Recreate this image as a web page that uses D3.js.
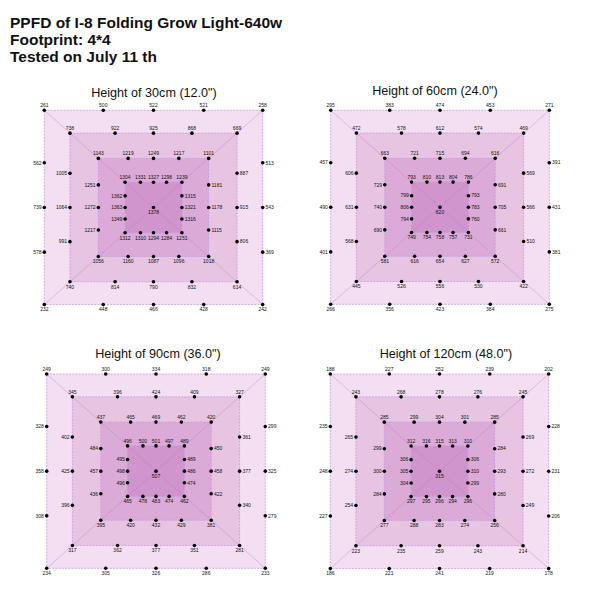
<!DOCTYPE html>
<html>
<head>
<meta charset="utf-8">
<script src="https://cdn.jsdelivr.net/npm/d3@7"></script>
<style>
  html, body { margin: 0; padding: 0; background: #fff; }
  svg { display: block; font-family: "Liberation Sans", Arial, sans-serif; }
</style>
</head>
<body>
<script>
// ---- Data ----
const titleLines = ["PPFD of I-8 Folding Grow Light-640w", "Footprint: 4*4", "Tested on July 11 th"];
const panelTitles = ["Height of 30cm (12.0\")", "Height of 60cm (24.0\")", "Height of 90cm (36.0\")", "Height of 120cm (48.0\")"];

// Each ring: top row L->R (5), right column T->B (3), bottom row L->R (5), left column T->B (3)
const ppfd30 = [
  [261, 500, 522, 521, 258,  513, 543, 369,  232, 448, 466, 428, 242,  562, 739, 578],
  [738, 922, 925, 868, 669,  887, 915, 806,  740, 814, 790, 832, 614,  1005, 1064, 991],
  [1143, 1219, 1249, 1217, 1101,  1181, 1178, 1115,  1056, 1160, 1087, 1096, 1018,  1251, 1272, 1217],
  [1304, 1331, 1327, 1298, 1239,  1315, 1321, 1316,  1312, 1310, 1294, 1284, 1251,  1362, 1363, 1349]
];
const center30 = 1378;

const ppfd60 = [
  [295, 383, 474, 453, 271,  391, 431, 381,  266, 356, 423, 384, 275,  457, 490, 401],
  [472, 578, 612, 574, 469,  569, 566, 510,  445, 526, 556, 530, 422,  606, 631, 568],
  [663, 721, 715, 694, 616,  691, 705, 661,  581, 616, 654, 627, 572,  729, 740, 690],
  [793, 810, 813, 804, 786,  793, 783, 760,  749, 754, 758, 757, 731,  799, 806, 794]
];
const center60 = 820;

const ppfd90 = [
  [249, 300, 334, 318, 249,  299, 325, 279,  234, 305, 326, 286, 233,  328, 358, 308],
  [345, 396, 424, 409, 327,  361, 377, 340,  317, 362, 377, 351, 281,  402, 425, 396],
  [437, 465, 469, 462, 420,  450, 458, 422,  395, 420, 432, 429, 381,  484, 457, 436],
  [496, 500, 501, 497, 489,  489, 486, 474,  465, 478, 483, 474, 462,  495, 498, 496]
];
const center90 = 507;

const ppfd120 = [
  [188, 227, 252, 239, 202,  228, 231, 206,  186, 221, 241, 219, 178,  235, 248, 227],
  [243, 268, 278, 276, 245,  269, 272, 249,  223, 235, 259, 243, 214,  265, 274, 254],
  [285, 299, 304, 301, 285,  284, 293, 280,  277, 288, 283, 274, 256,  299, 300, 284],
  [312, 316, 315, 313, 310,  306, 310, 299,  297, 295, 296, 294, 296,  306, 305, 304]
];
const center120 = 315;

const panelData = [ppfd30, ppfd60, ppfd90, ppfd120];
const panelCenters = [center30, center60, center90, center120];

// ---- Layout ----
const panelBoxes = [
  { x0: 44.3, x1: 262.7, y0: 110.3, y1: 304.6, tx: 154, ty: 96.5 },
  { x0: 330.7, x1: 549.3, y0: 110.3, y1: 304.3, tx: 435, ty: 94.5 },
  { x0: 46.7, x1: 265.3, y0: 374, y1: 568.3, tx: 158, ty: 358 },
  { x0: 330.3, x1: 548.7, y0: 374, y1: 568.6, tx: 446, ty: 358 }
];
const ringSize = [1, 0.765, 0.505, 0.26];
const midFrac = [-0.46, 0, 0.46];
const ringFill = ["#f3dff1", "#e6c4e2", "#dbaad7", "#d095cc"];

const svg = d3.select("body").append("svg").attr("width", 600).attr("height", 600);

svg.append("g").selectAll("text").data(titleLines).join("text")
  .attr("x", 10).attr("y", (d, i) => 28 + i * 17)
  .attr("font-size", 15.5).attr("font-weight", "bold").attr("fill", "#111")
  .text(d => d);

panelData.forEach((rings, pi) => {
  const box = panelBoxes[pi];
  const x = d3.scaleLinear().domain([-1, 1]).range([box.x0, box.x1]);
  const y = d3.scaleLinear().domain([-1, 1]).range([box.y0, box.y1]);
  const g = svg.append("g");

  g.append("text").attr("x", box.tx).attr("y", box.ty)
    .attr("text-anchor", "middle").attr("font-size", 12.6).attr("fill", "#111")
    .text(panelTitles[pi]);

  g.selectAll("rect.ring").data(ringSize).join("rect")
    .attr("class", "ring")
    .attr("x", s => x(-s)).attr("y", s => y(-s))
    .attr("width", s => x(s) - x(-s)).attr("height", s => y(s) - y(-s))
    .attr("fill", (s, i) => ringFill[i])
    .attr("stroke", "#c69be3").attr("stroke-width", 0.8)
    .attr("stroke-dasharray", "2,1.2");

  g.selectAll("line.diag").data([[-1, -1, 1, 1], [1, -1, -1, 1]]).join("line")
    .attr("class", "diag")
    .attr("x1", d => x(d[0])).attr("y1", d => y(d[1]))
    .attr("x2", d => x(d[2])).attr("y2", d => y(d[3]))
    .attr("stroke", "#b77ec9").attr("stroke-opacity", 0.45).attr("stroke-width", 0.9);

  const pts = [];
  rings.forEach((vals, ri) => {
    const s = ringSize[ri];
    const rowX = [-1, ...midFrac, 1];
    rowX.forEach((fx, j) => pts.push({ v: vals[j], px: fx * s, py: -s, pos: "top" }));
    midFrac.forEach((fy, j) => pts.push({ v: vals[5 + j], px: s, py: fy * s, pos: "right" }));
    rowX.forEach((fx, j) => pts.push({ v: vals[8 + j], px: fx * s, py: s, pos: "bottom" }));
    midFrac.forEach((fy, j) => pts.push({ v: vals[13 + j], px: -s, py: fy * s, pos: "left" }));
  });
  pts.push({ v: panelCenters[pi], px: 0, py: 0, pos: "bottom" });

  g.selectAll("circle").data(pts).join("circle")
    .attr("cx", d => x(d.px)).attr("cy", d => y(d.py)).attr("r", 1.8).attr("fill", "#000");

  g.selectAll("text.val").data(pts).join("text")
    .attr("class", "val")
    .attr("font-size", 5).attr("fill", "#111")
    .attr("x", d => x(d.px) + (d.pos === "right" ? 2.8 : d.pos === "left" ? -2.8 : 0))
    .attr("y", d => y(d.py) + (d.pos === "top" ? -3 : d.pos === "bottom" ? 6.8 : 1.8))
    .attr("text-anchor", d => d.pos === "right" ? "start" : d.pos === "left" ? "end" : "middle")
    .text(d => d.v);
});
</script>
</body>
</html>
